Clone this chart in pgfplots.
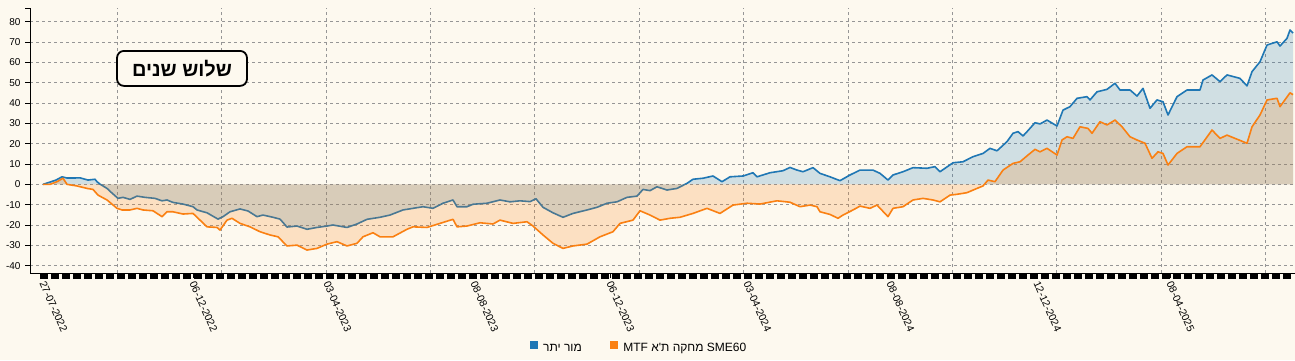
\documentclass[border=0pt]{standalone}
\usepackage{fontspec}
\setmainfont{Liberation Sans}
\newfontfamily\hebfont[Script=Hebrew]{Liberation Sans}
\TeXXeTstate=1
\usepackage{pgfplots}
\usepackage{pgfplotstable}
\pgfplotsset{compat=1.18}
\definecolor{cream}{RGB}{253,249,239}
\definecolor{blueC}{RGB}{31,119,180}
\definecolor{orangeC}{RGB}{250,128,18}
\definecolor{gridC}{RGB}{150,150,150}

\pgfplotstableread{
x y
43 0
50 1.1
56 2.1
62 3.7
67 3.1
73 3.1
80 3.2
88 2.1
95 2.5
97 1.3
100 0.1
107 -2.0
112 -4.3
118 -6.9
123 -6.4
130 -7.4
137 -5.8
145 -6.4
155 -6.9
162 -8.1
167 -7.7
173 -8.9
183 -9.7
193 -11.0
197 -12.6
207 -14.0
218 -17.1
223 -15.9
230 -13.5
240 -12.1
248 -13.1
257 -15.9
263 -15.1
273 -16.2
280 -17.1
287 -21.0
297 -20.5
307 -22.1
317 -21.2
327 -20.5
333 -20.0
347 -21.2
357 -19.5
367 -17.2
380 -16.2
390 -15.1
403 -12.6
413 -11.8
423 -11.0
433 -11.8
443 -9.3
453 -7.7
457 -11.0
467 -11.0
473 -9.8
487 -9.3
500 -7.7
510 -8.6
520 -8.1
530 -8.5
536 -7.1
543 -11.3
553 -14.0
563 -16.2
573 -14.3
587 -12.6
597 -11.3
607 -9.3
617 -8.6
627 -6.4
637 -5.8
643 -2.5
650 -3.1
657 -1.2
667 -2.8
677 -2.0
687 0.5
693 2.5
703 3.0
713 4.1
722 1.3
730 3.7
743 4.1
753 5.7
757 3.7
770 5.7
783 6.7
790 8.3
797 7.0
803 6.2
813 8.2
820 5.4
830 3.7
840 1.8
850 4.6
860 7.0
873 7.0
880 5.4
888 2.1
893 4.6
903 6.2
913 8.2
927 7.9
935 8.7
940 6.2
953 10.6
963 11.1
973 13.6
983 15.2
990 17.7
997 16.5
1007 21.0
1013 25.1
1018 25.9
1023 23.8
1027 25.9
1035 30.3
1040 29.7
1047 31.6
1057 28.7
1063 36.5
1070 38.2
1077 42.3
1087 43.1
1090 41.5
1097 45.5
1107 46.7
1115 49.7
1120 46.4
1130 46.4
1137 43.4
1143 47.2
1150 37.4
1157 41.5
1163 40.6
1168 34.1
1177 43.1
1187 46.4
1200 46.4
1203 51.3
1212 53.8
1220 50.5
1227 53.8
1240 52.1
1247 48.4
1252 55.4
1260 60.3
1267 68.5
1277 70.1
1280 68.0
1287 71.8
1290 75.9
1293 74.4
}\bluedata

\pgfplotstableread{
x y
43 0
50 0
57 1.3
63 3.0
67 0
77 -0.8
87 -2.0
93 -2.5
98 -5.3
107 -7.7
117 -11.8
122 -12.6
130 -12.6
137 -11.8
143 -12.6
153 -13.0
162 -15.9
167 -13.5
173 -13.5
183 -14.6
193 -14.3
200 -17.6
207 -20.9
217 -21.2
220 -22.5
227 -17.6
232 -16.7
240 -19.2
250 -20.9
260 -23.3
270 -24.9
278 -25.8
287 -30.3
297 -29.9
307 -32.3
317 -31.5
327 -29.4
337 -28.2
347 -30.3
357 -29.0
363 -25.8
373 -23.8
380 -25.8
393 -25.8
407 -22.1
413 -20.9
427 -21.2
440 -19.2
453 -17.2
457 -20.9
467 -20.5
480 -18.9
493 -19.5
500 -17.6
513 -19.2
527 -18.4
533 -20.5
543 -24.9
553 -29.0
563 -31.5
573 -30.3
587 -29.4
600 -25.8
613 -23.3
620 -19.2
633 -17.6
640 -13.0
650 -15.1
660 -17.6
670 -16.7
680 -16.2
693 -14.3
707 -11.8
720 -14.3
733 -10.2
747 -9.3
760 -9.7
777 -8.1
790 -8.8
800 -11.0
810 -10.2
817 -11.0
820 -13.5
830 -14.8
838 -16.7
843 -15.1
853 -12.6
860 -10.7
870 -11.8
877 -10.2
888 -15.9
893 -11.8
903 -11.0
913 -7.7
923 -6.9
933 -7.7
940 -8.6
950 -5.3
957 -4.9
967 -4.1
977 -2.0
983 -0.8
988 2.1
995 1.3
1003 7.0
1013 10.3
1020 11.1
1028 14.4
1035 17.2
1040 16.0
1047 17.7
1057 14.4
1062 21.8
1067 23.4
1073 22.6
1080 28.3
1088 27.5
1092 25.1
1100 30.8
1107 29.2
1115 31.6
1122 28.3
1130 23.4
1137 21.8
1145 20.2
1152 12.8
1158 16.0
1163 15.2
1168 9.5
1177 15.2
1187 18.5
1200 18.5
1212 26.7
1220 22.6
1227 24.2
1243 21.0
1247 20.2
1252 28.3
1260 34.1
1267 41.5
1277 42.3
1280 38.2
1290 45.0
1293 44.1
}\orangedata

\begin{document}
\begin{tikzpicture}
\useasboundingbox (-30pt,-87pt) rectangle (1265pt,273pt);
\fill[cream] (-30pt,-87pt) rectangle (1265pt,273pt);
\begin{axis}[
  at={(0,0)}, anchor=south west,
  width=1265pt, height=265pt, scale only axis,
  xmin=30, xmax=1295, ymin=-43.6, ymax=86.7,
  axis x line*=bottom, axis y line*=left,
  axis line style={black, line width=1pt},
  tick align=outside,
  major tick length=5pt,
  tick style={black, line width=0.9pt},
  ytick={-40,-30,...,80},
  extra y ticks={86.7},
  extra y tick labels={},
  extra y tick style={grid=none},
  ymajorgrids=true,
  major grid style={gridC, line width=0.6pt, dash pattern=on 3pt off 3pt},
  /pgf/number format/assume math mode=true,
  y tick label style={font=\fontsize{10}{12}\selectfont, xshift=-1pt},
  xtick={43,193,327,474,610,747,890,1037,1170},
  xticklabels={27-07-2022,06-12-2022,03-04-2023,08-08-2023,06-12-2023,03-04-2024,08-08-2024,12-12-2024,08-04-2025},
  x tick label style={rotate=-66, anchor=west, font=\fontsize{10.5}{12}\selectfont, yshift=-2pt},
  minor xtick={44,55,...,1291},
  minor tick length=6pt,
  every minor tick/.append style={line width=8.3pt, black},
  extra x ticks={117,221.4,325.8,430.2,534.6,639,743.4,847.8,952.2,1056.6,1161,1265.4},
  extra x tick labels={},
  extra x tick style={grid=major, major tick length=0pt},
  legend style={at={(0.4814,-0.283)}, anchor=center, draw=none, fill=none,
    legend columns=2, font=\hebfont\fontsize{12}{14}\selectfont,
    /tikz/every even column/.append style={column sep=26pt}},
  legend image code/.code={\fill[#1] (0pt,-1pt) rectangle (8.5pt,7.5pt);},
]
\addplot[draw=none, fill=blueC, fill opacity=0.2, forget plot] table[x=x,y=y] {\bluedata} \closedcycle;
\addplot[blueC, line width=1.6pt, line join=round, forget plot] table[x=x,y=y] {\bluedata};
\addplot[draw=none, fill=orangeC, fill opacity=0.2, forget plot] table[x=x,y=y] {\orangedata} \closedcycle;
\addplot[orangeC, line width=1.6pt, line join=round, forget plot] table[x=x,y=y] {\orangedata};
\addlegendimage{fill=blueC, draw=none}
\addlegendentry{\hspace{3pt}\beginR מור יתר\endR}
\addlegendimage{fill=orangeC, draw=none}
\addlegendentry{\hspace{3pt}MTF \beginR מחקה ת'א\endR\ SME60}
\node[draw=black, line width=1.8pt, rounded corners=7pt, fill=cream,
  minimum width=130pt, minimum height=35pt, inner sep=0pt,
  font=\hebfont\bfseries\fontsize{20}{24}\selectfont] at (axis cs:182,57) {\beginR שלוש שנים\endR};
\end{axis}
\end{tikzpicture}
\end{document}
